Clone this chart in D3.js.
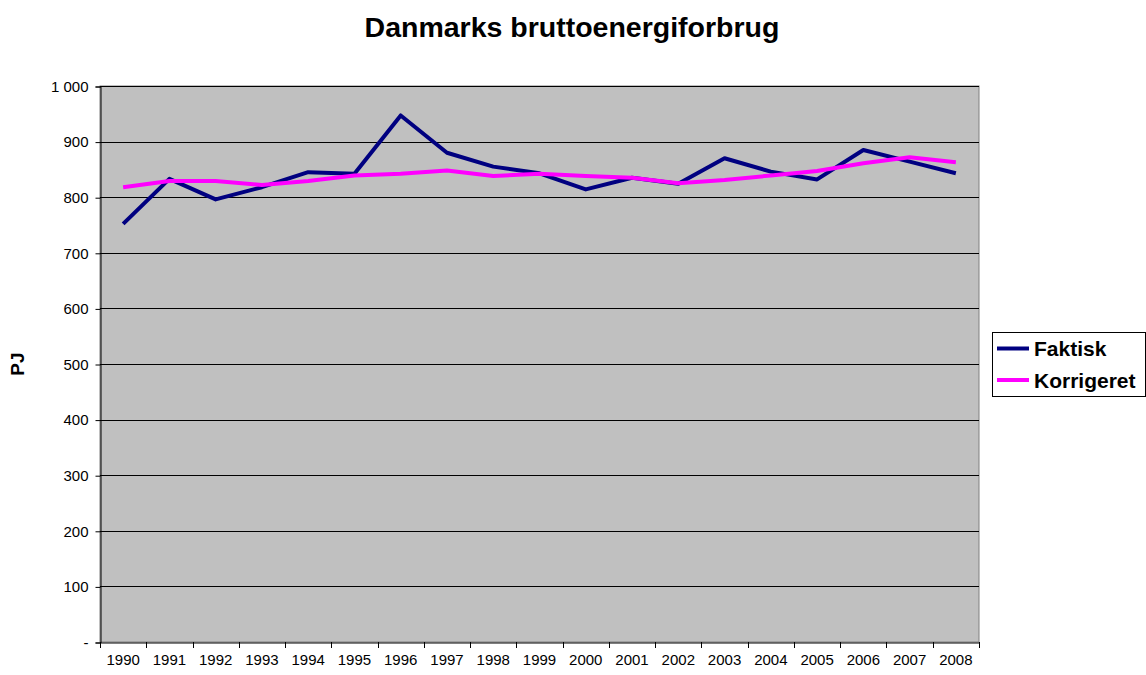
<!DOCTYPE html>
<html>
<head>
<meta charset="utf-8">
<script src="https://cdn.jsdelivr.net/npm/d3@7"></script>
<style>
  body { margin: 0; background: #fff; }
  text { font-family: "Liberation Sans", Arial, sans-serif; }
</style>
</head>
<body>
<div id="chart"></div>
<script>
// chart data
var years = ["1990", "1991", "1992", "1993", "1994", "1995", "1996", "1997", "1998", "1999",
    "2000", "2001", "2002", "2003", "2004", "2005", "2006", "2007", "2008"];
var faktisk = [752, 833, 796, 818, 845, 842, 947, 880, 855, 843,
    814, 835, 824, 870, 846, 832, 885, 864, 843];
var korrigeret = [818, 829, 829, 822, 829, 839, 842, 848, 838, 842,
    838, 835, 825, 831, 839, 847, 861, 872, 863];
var yTicks = [0, 100, 200, 300, 400, 500, 600, 700, 800, 900, 1000];
var seriesNames = ["Faktisk", "Korrigeret"];

var W = 1146, H = 675;
var plot = { left: 100, top: 86, right: 979, bottom: 642 };

var svg = d3.select("#chart").append("svg")
    .attr("width", W)
    .attr("height", H);

var x = d3.scaleBand()
    .domain(years)
    .range([plot.left, plot.right])
    .padding(0);

var y = d3.scaleLinear()
    .domain([0, 1000])
    .range([plot.bottom, plot.top]);

// plot background
svg.append("rect")
    .attr("x", plot.left)
    .attr("y", plot.top)
    .attr("width", plot.right - plot.left)
    .attr("height", plot.bottom - plot.top)
    .attr("fill", "#c0c0c0")
    .attr("stroke", "#808080")
    .attr("stroke-width", 1);

// gridlines
svg.append("g")
    .selectAll("line")
    .data(yTicks.filter(d => d > 0))
    .enter().append("line")
    .attr("x1", plot.left)
    .attr("x2", plot.right)
    .attr("y1", d => Math.round(y(d)) + 0.5)
    .attr("y2", d => Math.round(y(d)) + 0.5)
    .attr("stroke", "#000")
    .attr("stroke-width", 1);

// y axis
var fmt = function (d) {
    if (d === 0) return "-";
    return d >= 1000 ? Math.floor(d / 1000) + " " + String(d % 1000).padStart(3, "0") : String(d);
};
var yAxis = svg.append("g")
    .attr("transform", "translate(" + (plot.left + 0.5) + ",0.5)")
    .call(d3.axisLeft(y).tickValues(yTicks).tickFormat(fmt).tickSize(5).tickPadding(7));
yAxis.selectAll("text")
    .attr("font-size", "15px")
    .attr("fill", "#000")
    .attr("font-family", "Liberation Sans, Arial, sans-serif");
yAxis.selectAll("line").attr("stroke", "#000");
yAxis.select(".domain").attr("stroke", "#000");

// x axis
var xAxis = svg.append("g")
    .attr("transform", "translate(0," + (plot.bottom + 0.5) + ")")
    .call(d3.axisBottom(x).tickSize(0).tickPadding(12));
xAxis.select(".domain").attr("stroke", "#000");
xAxis.selectAll("text")
    .attr("font-size", "15px")
    .attr("fill", "#000")
    .attr("font-family", "Liberation Sans, Arial, sans-serif");
// category boundary ticks
var boundaries = years.map(d => x(d)).concat([x(years[years.length - 1]) + x.bandwidth()]);
svg.append("g")
    .selectAll("line")
    .data(boundaries)
    .enter().append("line")
    .attr("x1", d => Math.round(d) + 0.5)
    .attr("x2", d => Math.round(d) + 0.5)
    .attr("y1", plot.bottom)
    .attr("y2", plot.bottom + 6)
    .attr("stroke", "#000");

// lines
var line = d3.line()
    .x((d, i) => x(years[i]) + x.bandwidth() / 2)
    .y(d => y(d));

var series = [
    { name: seriesNames[0], values: faktisk, color: "#000080" },
    { name: seriesNames[1], values: korrigeret, color: "#ff00ff" }
];

series.forEach(s => {
    svg.append("path")
        .datum(s.values)
        .attr("d", line)
        .attr("fill", "none")
        .attr("stroke", s.color)
        .attr("stroke-width", 4)
        .attr("stroke-linejoin", "round");
});

// title
svg.append("text")
    .attr("x", 572)
    .attr("y", 37)
    .attr("text-anchor", "middle")
    .attr("font-size", "28.5px")
    .attr("font-weight", "bold")
    .text("Danmarks bruttoenergiforbrug");

// y label
svg.append("text")
    .attr("transform", "translate(24,364) rotate(-90)")
    .attr("text-anchor", "middle")
    .attr("font-size", "19px")
    .attr("font-weight", "bold")
    .text("PJ");

// legend
var legend = svg.append("g");
legend.append("rect")
    .attr("x", 992.5)
    .attr("y", 332.5)
    .attr("width", 153)
    .attr("height", 64)
    .attr("fill", "#fff")
    .attr("stroke", "#000");
series.forEach((s, i) => {
    var ly = 348.5 + i * 31.5;
    legend.append("line")
        .attr("x1", 997)
        .attr("x2", 1029)
        .attr("y1", ly)
        .attr("y2", ly)
        .attr("stroke", s.color)
        .attr("stroke-width", 4);
    legend.append("text")
        .attr("x", 1034)
        .attr("y", ly + 7.5)
        .attr("font-size", "21px")
        .attr("font-weight", "bold")
        .text(s.name);
});
</script>
</body>
</html>
